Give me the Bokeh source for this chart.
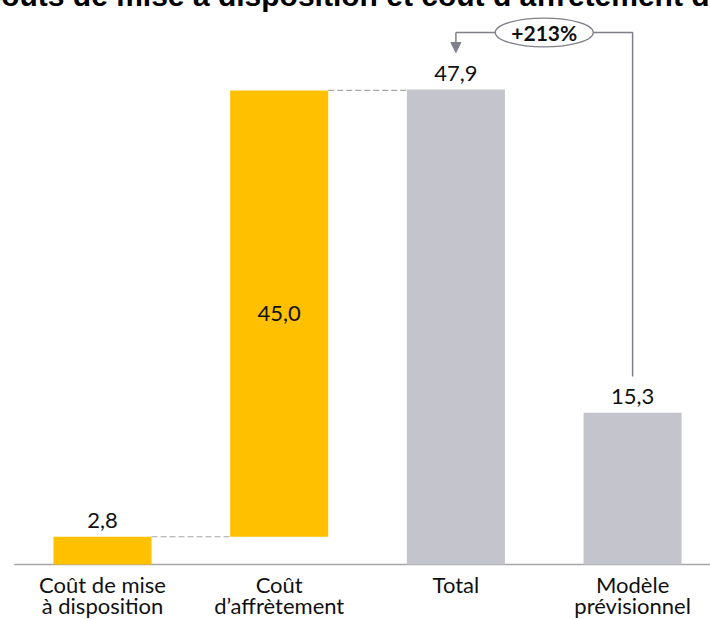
from bokeh.plotting import figure
from bokeh.models import Range1d, Label, ColumnDataSource, Arrow, NormalHead
from bokeh.core.properties import value
from bokeh.embed import file_html
from bokeh.resources import INLINE

# ---- data ----
title_text = "Coûts de mise à disposition et coût d’affrètement de"
cat_line1 = ["Coût de mise", "Coût", "Total", "Modèle"]
cat_line2 = ["à disposition", "d’affrètement", "", "prévisionnel"]
values = [2.8, 45.0, 47.9, 15.3]
value_labels = ["2,8", "45,0", "47,9", "15,3"]
bar_colors = ["#FFC000", "#FFC000", "#C4C4CD", "#C4C4CD"]
change_label = "+213%"

idx = list(range(len(values)))
bottoms = [0, values[0], 0, 0]
tops = [b + v for b, v in zip(bottoms, values)]

BAR_W = 0.555
FONT = "Lato"

p = figure(width=710, height=641,
           x_range=Range1d(-0.5772, 3.4409), y_range=Range1d(-5.546, 59.09),
           x_axis_type=None, y_axis_type=None, min_border=0,
           outline_line_color=None, output_backend="svg", toolbar_location=None)
p.grid.visible = False
p.background_fill_color = "white"
p.border_fill_color = "white"
p.styles = {"margin-top": "-22px", "margin-bottom": "-22px"}

# baseline
p.line(x=[-0.5, 3.6], y=[0, 0], line_color="#A6A6A6", line_width=1.5)

# dashed connectors
p.line(x=[0 + BAR_W / 2, 1 - BAR_W / 2], y=[tops[0], tops[0]],
       line_color="#A6A6A6", line_width=1.2, line_dash="6 3")
p.line(x=[1 + BAR_W / 2, 2 - BAR_W / 2], y=[tops[1], tops[1]],
       line_color="#A6A6A6", line_width=1.2, line_dash="6 3")

# bars
src = ColumnDataSource(dict(x=idx, bottom=bottoms, top=tops, color=bar_colors))
p.vbar(x="x", bottom="bottom", top="top", width=BAR_W, fill_color="color",
       line_color=None, source=src)

# value labels
outside = [0, 2, 3]
p.text(x=[idx[i] for i in outside], y=[tops[i] for i in outside],
       text=[value_labels[i] for i in outside], y_offset=-16,
       text_align="center", text_baseline="middle",
       text_font=value(FONT), text_font_size="22px", text_color="#111111")
p.text(x=[idx[1]], y=[(bottoms[1] + tops[1]) / 2], text=[value_labels[1]],
       text_align="center", text_baseline="middle",
       text_font=value(FONT), text_font_size="22px", text_color="#111111")

# category labels
p.text(x=idx, y=[0] * 4, text=cat_line1, y_offset=20,
       text_align="center", text_baseline="middle",
       text_font=value(FONT), text_font_size="22px", text_color="#111111")
p.text(x=idx, y=[0] * 4, text=cat_line2, y_offset=41,
       text_align="center", text_baseline="middle",
       text_font=value(FONT), text_font_size="22px", text_color="#111111")

# bracket with change label
top_level = values[2] + 5.75
line_col = "#7F7F8C"
p.line(x=[3, 3, 2], y=[values[3] + 3.66, top_level, top_level],
       line_color=line_col, line_width=1.5)
p.add_layout(Arrow(end=NormalHead(size=10, fill_color=line_col, line_color=line_col),
                   x_start=2, y_start=top_level, x_end=2, y_end=values[2] + 3.73,
                   line_color=line_col, line_width=1.5))
p.ellipse(x=[2.5], y=[top_level], width=BAR_W, height=2.9,
          fill_color="white", line_color=line_col, line_width=1.3)
p.text(x=[2.5], y=[top_level], text=[change_label],
       text_align="center", text_baseline="middle",
       text_font=value(FONT), text_font_style="bold", text_font_size="21px",
       text_color="#111111")

# title (cut off at the top in the reference)
p.add_layout(Label(x=-21, y=624, x_units="screen", y_units="screen",
                   text=title_text, text_font="Liberation Sans",
                   text_font_style="bold", text_font_size="30px",
                   text_color="#000000", text_baseline="alphabetic"))

open("out.html", "w").write(file_html(p, INLINE))
